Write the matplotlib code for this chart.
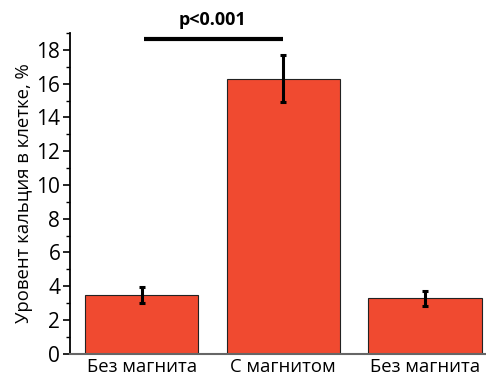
import matplotlib.pyplot as plt
from matplotlib.ticker import MultipleLocator

plt.rcParams['font.family'] = ['Open Sans', 'DejaVu Sans']

categories = ["Без магнита", "С магнитом", "Без магнита"]
values = [3.5, 16.3, 3.28]
errors = [0.48, 1.4, 0.45]
ylabel = "Уровент кальция в клетке, %"
p_label = "p<0.001"
bar_color = "#F04A30"

fig = plt.figure(figsize=(4.86, 3.8), dpi=100)
ax = fig.add_axes([0.144, 0.069, 0.856, 0.844])

x = range(len(values))
ax.bar(x, values, width=0.8, color=bar_color, edgecolor="#222222", linewidth=0.8, zorder=2)
ax.errorbar(x, values, yerr=errors, fmt="none", ecolor="black", elinewidth=2.2,
            capsize=2.5, capthick=2.2, zorder=3)

# significance bracket between first two bars
ax.plot([0.02, 1.0], [18.63, 18.63], color="black", lw=3, solid_capstyle="butt", clip_on=False)
ax.text(0.5, 19.25, p_label, ha="center", va="bottom", fontsize=13, fontweight="bold")

ax.set_xlim(-0.505, 2.43)
ax.set_ylim(0, 19)
ax.yaxis.set_major_locator(MultipleLocator(2))
ax.yaxis.set_minor_locator(MultipleLocator(1))
ax.tick_params(axis="y", which="major", length=5, width=1.2, labelsize=15, pad=2, direction="out")
ax.tick_params(axis="y", which="minor", length=3, width=1, direction="out")
ax.set_xticks(list(x))
ax.set_xticklabels(categories, fontsize=13.3)
ax.tick_params(axis="x", length=0, pad=3)
ax.set_ylabel(ylabel, fontsize=13.3, labelpad=2)

ax.spines["top"].set_visible(False)
ax.spines["right"].set_visible(False)
ax.spines["left"].set_linewidth(1.3)
ax.spines["bottom"].set_color("#666666")
ax.spines["bottom"].set_linewidth(1.5)

fig.savefig("out.png", dpi=100)
